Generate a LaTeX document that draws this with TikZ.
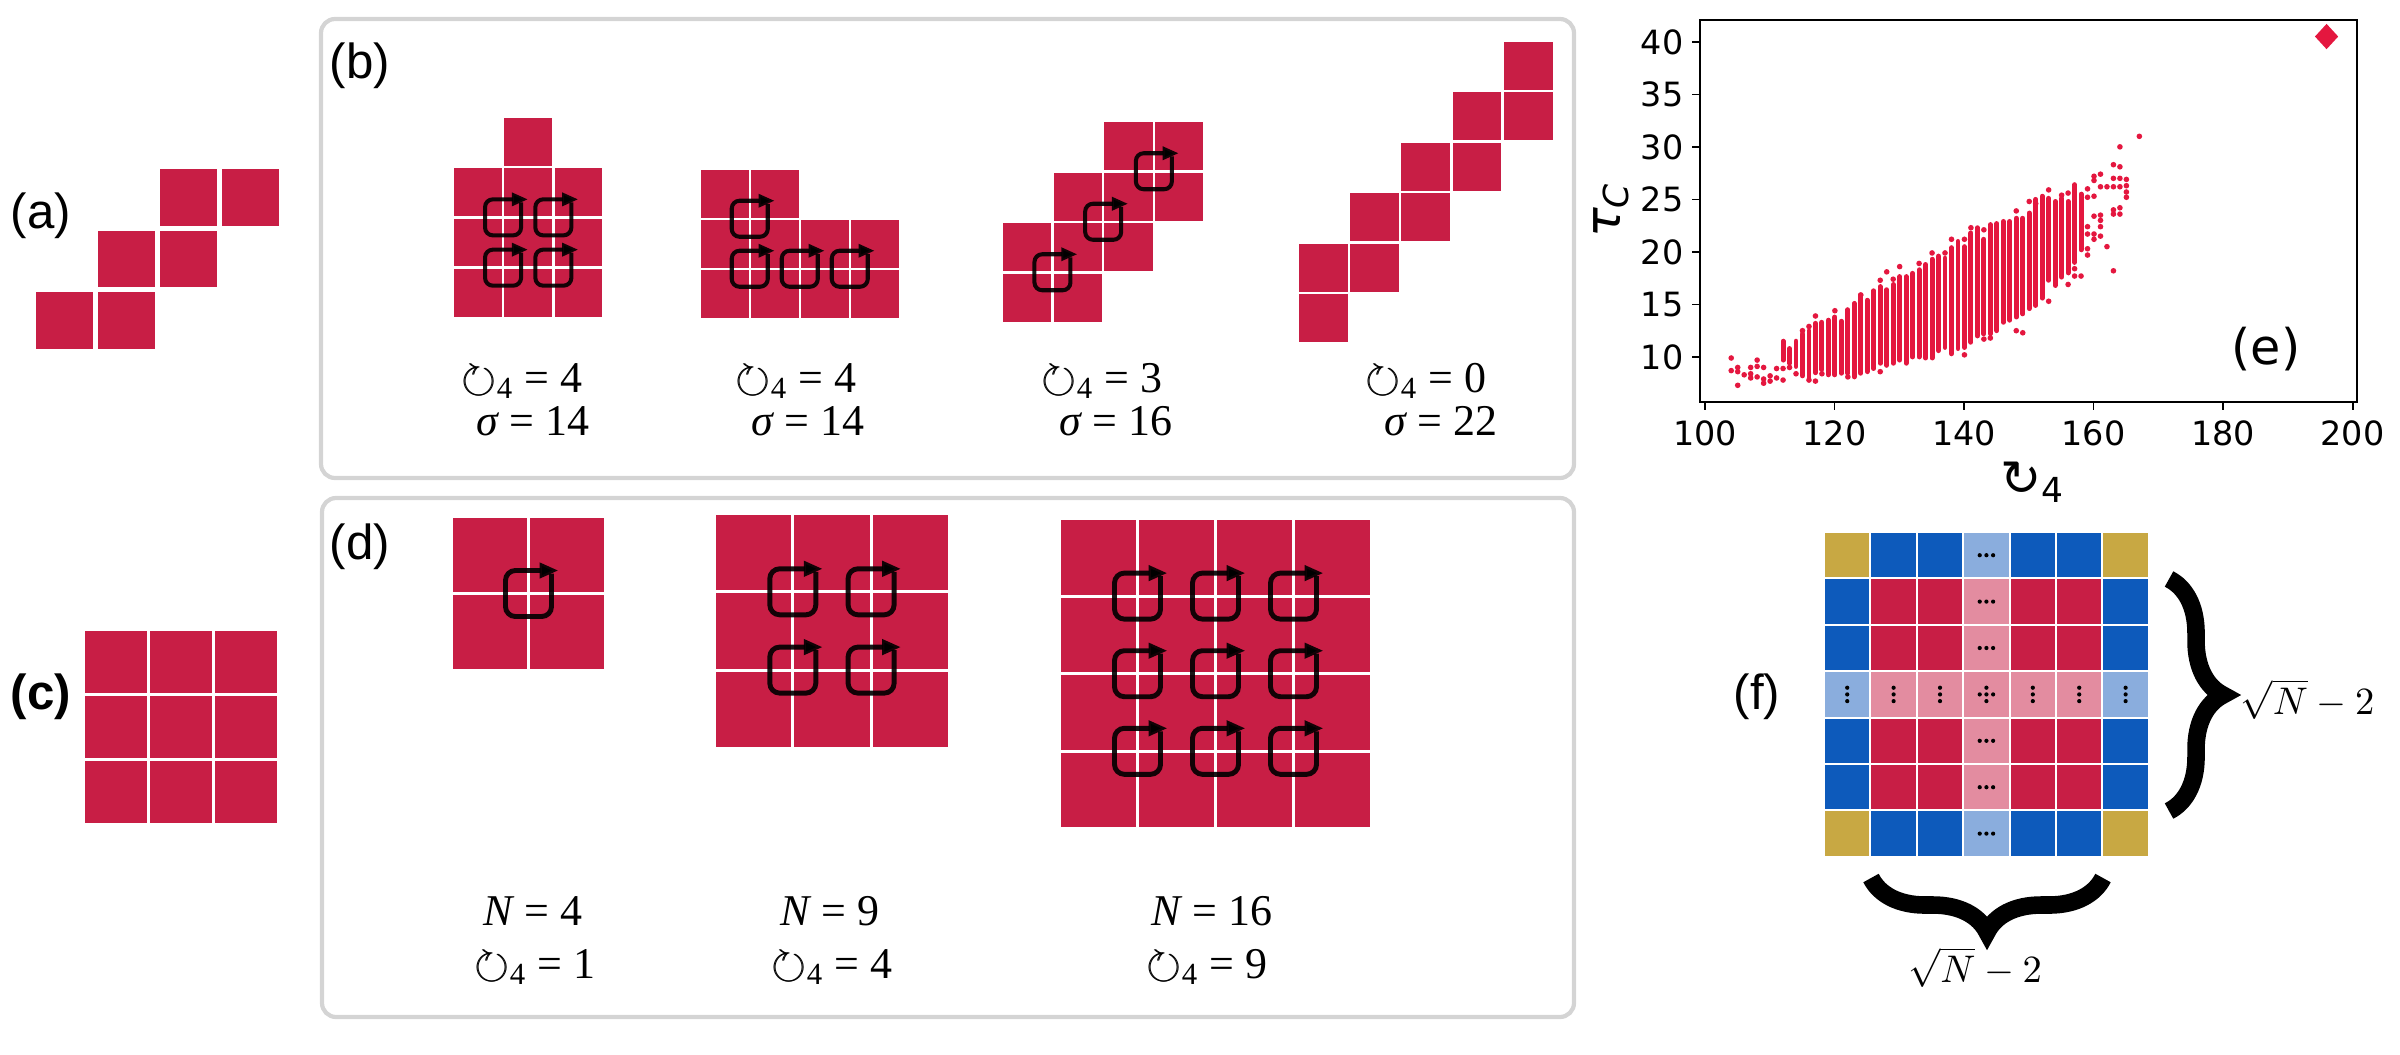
\documentclass[tikz,border=0pt]{standalone}
\usepackage{amssymb}
\usepackage{fontspec}
\setmainfont{Liberation Sans}
\newfontfamily\tms{Liberation Serif}
\newfontfamily\djv{DejaVu Sans}
\usetikzlibrary{arrows.meta,decorations.pathreplacing}
\definecolor{sq}{HTML}{C81E45}
\definecolor{fgold}{HTML}{C8A843}
\definecolor{fblue}{HTML}{0D5ABB}
\definecolor{flight}{HTML}{8AADDD}
\definecolor{fpink}{HTML}{E38CA0}
\definecolor{pred}{HTML}{E4173F}
\definecolor{boxgray}{HTML}{D4D4D4}
\newcommand{\circsym}{\rlap{$\circlearrowright$}\hspace{0.35pt}$\circlearrowright$}
% colour, x0, y0, px, py, gap, list of col/row
\newcommand{\cells}[7]{\foreach \ci/\ri in {#7}{\fill[#1] ({#2+\ci*#4},{#3+\ri*#5}) rectangle ({#2+(\ci+1)*#4-#6},{#3+(\ri+1)*#5-#6});}}
% x0, y0, px, py, gap, half size, list of col/row (vertex)
\newcommand{\loopsat}[7]{\foreach \ci/\ri in {#7}{%
  \pgfmathsetmacro\lx{#1+\ci*#3-#5/2}%
  \pgfmathsetmacro\ly{#2+\ri*#4-#5/2}%
  \draw ({\lx+#6},{\ly-#6+3}) -- ({\lx+#6},{\ly+#6}) -- ({\lx-#6},{\ly+#6}) -- ({\lx-#6},{\ly-#6}) -- ({\lx+#6+7},{\ly-#6});}}
\tikzset{
  plab/.style={inner sep=0pt, font=\fontsize{14}{16}\selectfont},
  mlab/.style={anchor=base, inner sep=0pt, font=\tms\fontsize{12.5}{14}\selectfont},
  tick/.style={inner sep=0pt, font=\djv\fontsize{9.5}{11}\selectfont},
  panelbox/.style={draw=boxgray, line width=1.2pt, rounded corners=4pt},
  loopb/.style={draw=black, draw opacity=0.9, line width=1.15pt, rounded corners=2.2pt, -{Triangle[length=4.6pt,width=3.6pt]}},
  loopd/.style={draw=black, draw opacity=0.9, line width=1.4pt, rounded corners=2.8pt, -{Triangle[length=5.4pt,width=4.2pt]}},
  brc/.style={decorate, decoration={brace, amplitude=0.54cm}, line width=5pt},
  bar/.style={draw=pred, line width=1.4pt, line cap=round},
}
\begin{document}
\begin{tikzpicture}[x=0.01cm, y=-0.01cm]
\useasboundingbox (0,0) rectangle (2400,1054);

% ---------- (a) ----------
\node[plab] (la) at (41,216) {(a)};
\cells{sq}{36}{169}{62}{61.5}{5}{2/0,3/0,1/1,2/1,0/2,1/2}

% ---------- (c) ----------
\node[plab, font=\bfseries\fontsize{14}{16}\selectfont] (lc) at (41,697) {(c)};
\cells{sq}{85}{631}{65}{65}{3.5}{0/0,1/0,2/0,0/1,1/1,2/1,0/2,1/2,2/2}

% ---------- (b) ----------
\draw[panelbox] (321,19) rectangle (1574,478);
\node[plab] (lb) at (360,66) {(b)};
\cells{sq}{454}{118}{50.3}{50.3}{2.5}{1/0,0/1,1/1,2/1,0/2,1/2,2/2,0/3,1/3,2/3}
\cells{sq}{701}{170}{50}{50}{2.5}{0/0,1/0,0/1,1/1,2/1,3/1,0/2,1/2,2/2,3/2}
\cells{sq}{1003}{122}{50.7}{50.5}{2.5}{2/0,3/0,1/1,2/1,3/1,0/2,1/2,2/2,0/3,1/3}
\cells{sq}{1299}{42}{51.2}{50.4}{2.5}{4/0,3/1,4/1,2/2,3/2,1/3,2/3,0/4,1/4,0/5}
\begin{scope}[loopb]
\loopsat{454}{118}{50.3}{50.3}{2.5}{18}{1/2,2/2,1/3,2/3}
\loopsat{701}{170}{50}{50}{2.5}{18}{1/1,1/2,2/2,3/2}
\loopsat{1003}{122}{50.7}{50.5}{2.5}{18}{1/3,2/2,3/1}
\end{scope}
\node[mlab] (b1a) at (522,392) {\circsym\textsubscript{4} = 4};
\node[mlab] (b1b) at (533,435) {{\itshape σ} = 14};
\node[mlab] (b2a) at (796,392) {\circsym\textsubscript{4} = 4};
\node[mlab] (b2b) at (808,435) {{\itshape σ} = 14};
\node[mlab] (b3a) at (1102,392) {\circsym\textsubscript{4} = 3};
\node[mlab] (b3b) at (1116,435) {{\itshape σ} = 16};
\node[mlab] (b4a) at (1426,392) {\circsym\textsubscript{4} = 0};
\node[mlab] (b4b) at (1441,435) {{\itshape σ} = 22};

% ---------- (d) ----------
\draw[panelbox] (322,498) rectangle (1574,1017);
\node[plab] (ld) at (360,547) {(d)};
\cells{sq}{453}{518}{77}{77}{3}{0/0,1/0,0/1,1/1}
\cells{sq}{716}{515}{78.3}{78.3}{3}{0/0,1/0,2/0,0/1,1/1,2/1,0/2,1/2,2/2}
\cells{sq}{1061}{520}{78}{77.6}{3}{0/0,1/0,2/0,3/0,0/1,1/1,2/1,3/1,0/2,1/2,2/2,3/2,0/3,1/3,2/3,3/3}
\begin{scope}[loopd]
\loopsat{453}{518}{77}{77}{3}{23}{1/1}
\loopsat{716}{515}{78.3}{78.3}{3}{23}{1/1,2/1,1/2,2/2}
\loopsat{1061}{520}{78}{77.6}{3}{23}{1/1,2/1,3/1,1/2,2/2,3/2,1/3,2/3,3/3}
\end{scope}
\node[mlab] (d1a) at (533,925) {{\itshape N} = 4};
\node[mlab] (d1b) at (535,978) {\circsym\textsubscript{4} = 1};
\node[mlab] (d2a) at (830,925) {{\itshape N} = 9};
\node[mlab] (d2b) at (832,978) {\circsym\textsubscript{4} = 4};
\node[mlab] (d3a) at (1212,925) {{\itshape N} = 16};
\node[mlab] (d3b) at (1207,978) {\circsym\textsubscript{4} = 9};

% ---------- (e) ----------
\begin{scope}[shift={(1057.5,462)}, x=0.06475cm, y=0.105cm]
\foreach \xx/\lo/\hi in {112/9.7/11.5,113/9.4/10.8,114/9.1/11.5,115/8.2/12.2,116/8.0/12.5,117/8.5/13.2,118/8.8/13.3,119/8.3/13.5,120/8.3/13.8,121/8.45/13.4,122/8.45/14.5,123/8.1/15.1,124/8.45/15.9,125/8.6/15.4,126/8.9/16.3,127/9.4/16.7,128/9.2/16.4,129/9.4/16.9,130/9.7/17.65,131/9.4/17.65,132/10.0/17.96,133/10.0/18.3,134/9.9/18.8,135/9.9/19.3,136/10.6/19.6,137/10.9/19.4,138/10.3/20.4,139/10.8/21.0,140/10.9/20.5,141/11.4/21.8,142/12.0/22.3,143/12.2/21.2,144/12.2/22.6,145/12.5/22.7,146/13.3/22.9,147/13.5/22.9,148/13.8/23.2,149/14.1/23.2,150/14.6/23.7,151/14.9/25.0,152/15.6/25.3,153/17.3/25.1,154/16.8/24.8,155/17.6/25.1,156/18.0/24.8,157/19.0/26.4,158/20.2/25.5}
  \draw[bar] (\xx,\lo) -- (\xx,\hi);
\foreach \xx/\yy in {104/9.9,104/8.7,105/9.0,105/8.6,105/7.3,106/8.3,107/9.0,107/8.4,107/8.0,108/9.7,108/9.1,108/8.1,109/9.0,109/7.9,109/7.5,110/8.2,110/7.7,111/8.9,111/8.0,112/8.9,112/7.8,113/9.0,114/8.4,115/12.5,116/12.9,116/7.8,117/13.9,117/7.7,118/8.4,120/14.4,122/8.1,124/15.9,127/17.3,127/8.6,128/18.1,129/17.4,130/18.6,133/18.9,135/19.9,137/19.9,138/21.2,140/21.2,140/10.2,141/22.3,143/22.1,143/11.7,144/11.8,148/23.9,148/12.5,149/12.3,150/24.8,151/24.6,153/25.9,153/15.3,155/25.4,156/25.6,156/16.9,157/17.7,157/18.4,158/17.7,159/26.0,159/25.2,159/22.4,159/21.7,159/20.3,159/19.7,160/27.2,160/26.8,160/25.3,160/23.4,160/21.7,160/21.2,161/27.4,161/26.2,161/23.5,161/23.0,161/22.4,161/21.5,162/26.2,162/20.5,163/28.3,163/27.0,163/26.2,163/24.0,163/23.6,163/18.2,164/30.0,164/28.1,164/27.0,164/26.2,164/24.2,164/23.6,165/26.9,165/26.3,165/25.7,165/25.2,167/31.0}
  \fill[pred] (\xx,\yy) circle[radius=0.8pt];
\fill[pred] (195.9,40.5) ++(0,3.6pt) -- ++(3.3pt,-3.6pt) -- ++(-3.3pt,-3.6pt) -- ++(-3.3pt,3.6pt) -- cycle;
\end{scope}
\draw[line width=0.55pt] (1700,20) rectangle (2357,402);
\foreach \v in {10,15,20,25,30,35,40}{
  \draw[line width=0.55pt] (1692,{357-(\v-10)*10.5}) -- (1700,{357-(\v-10)*10.5});
  \node[tick, anchor=east] (yt\v) at (1684,{357-(\v-10)*10.5}) {\v};}
\foreach \v in {100,120,140,160,180,200}{
  \draw[line width=0.55pt] ({1705+(\v-100)*6.475},402) -- ({1705+(\v-100)*6.475},410);
  \node[tick, anchor=base] (xt\v) at ({1705+(\v-100)*6.475},445) {\v};}
\node[rotate=90, inner sep=0pt] (ylab) at (1611,210) {\djv\fontsize{14}{14}\selectfont\itshape τ\textsubscript{C}};
\node[anchor=base west, inner sep=0pt] (xlab) at (2000,495) {\djv\fontsize{14}{14}\selectfont ↻\textsubscript{4}};
\node[inner sep=0pt, font=\djv\fontsize{14}{16}\selectfont] (le) at (2266,349) {(e)};

% ---------- (f) ----------
\node[plab] (lf) at (1757,697) {(f)};
\cells{fgold}{1825}{533}{46.4}{46.4}{2}{0/0,6/0,0/6,6/6}
\cells{fblue}{1825}{533}{46.4}{46.4}{2}{1/0,2/0,4/0,5/0,1/6,2/6,4/6,5/6,0/1,0/2,0/4,0/5,6/1,6/2,6/4,6/5}
\cells{flight}{1825}{533}{46.4}{46.4}{2}{3/0,3/6,0/3,6/3}
\cells{sq}{1825}{533}{46.4}{46.4}{2}{1/1,2/1,4/1,5/1,1/2,2/2,4/2,5/2,1/4,2/4,4/4,5/4,1/5,2/5,4/5,5/5}
\cells{fpink}{1825}{533}{46.4}{46.4}{2}{3/1,3/2,3/4,3/5,1/3,2/3,4/3,5/3,3/3}
\foreach \ri in {0,1,2,4,5,6}{
  \pgfmathsetmacro\cx{1825+3*46.4+22.2}
  \pgfmathsetmacro\cy{533+\ri*46.4+22.2}
  \foreach \k in {-1,0,1} \fill ({\cx+\k*6.7},\cy) circle[radius=0.6pt];}
\foreach \ci in {0,1,2,4,5,6}{
  \pgfmathsetmacro\cx{1825+\ci*46.4+22.2}
  \pgfmathsetmacro\cy{533+3*46.4+22.2}
  \foreach \k in {-1,0,1} \fill (\cx,{\cy+\k*6.7}) circle[radius=0.6pt];}
\pgfmathsetmacro\cx{1825+3*46.4+22.2}
\pgfmathsetmacro\cy{533+3*46.4+22.2}
\foreach \dx/\dy in {0/0,-6.7/0,6.7/0,0/-6.7,0/6.7} \fill ({\cx+\dx},{\cy+\dy}) circle[radius=0.6pt];
\coordinate (rb1) at (2169,579);
\coordinate (rb2) at (2169,811);
\draw[brc] (rb1) -- (rb2);
\coordinate (bb1) at (2103,878);
\coordinate (bb2) at (1871,878);
\draw[brc] (bb1) -- (bb2);
\node[anchor=west, inner sep=0pt, font=\fontsize{10.5}{12}\selectfont] (rl) at (2240,699) {$\sqrt{N}-2$};
\node[inner sep=0pt, font=\fontsize{10.5}{12}\selectfont] (bl) at (1975,967) {$\sqrt{N}-2$};
\end{tikzpicture}
\end{document}
